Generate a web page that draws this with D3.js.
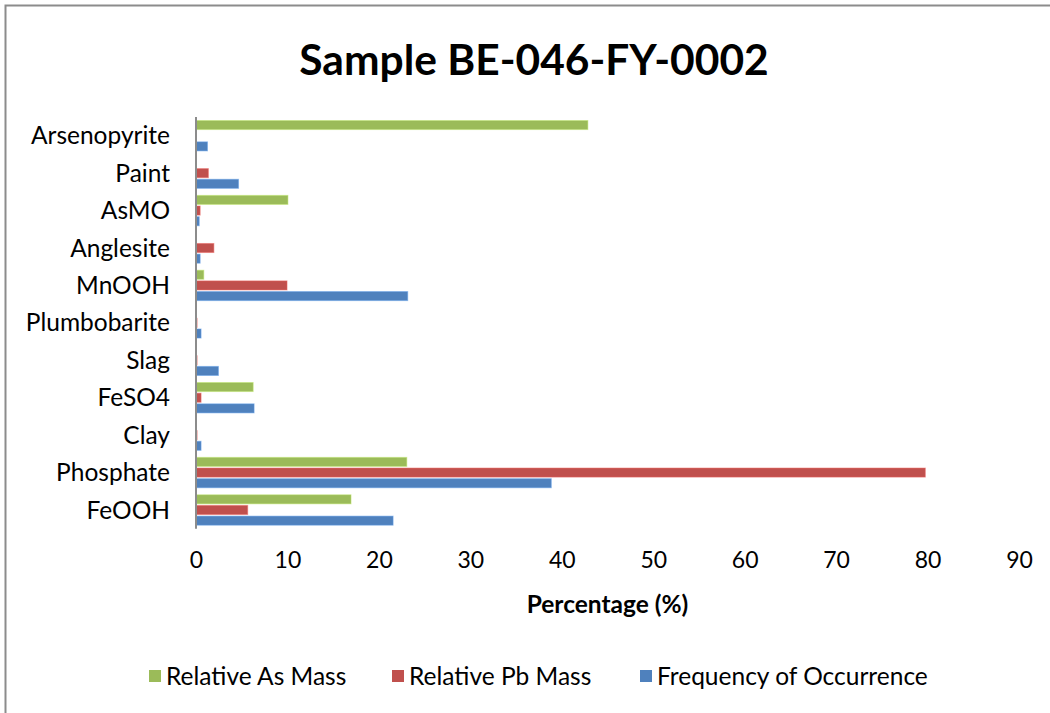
<!DOCTYPE html>
<html>
<head>
<meta charset="utf-8">
<script src="https://cdn.jsdelivr.net/npm/d3@7"></script>
<style>
html,body{margin:0;padding:0;background:#fff;}
svg{display:block;font-family:Lato,"Open Sans",sans-serif;}
</style>
</head>
<body>
<svg id="chart" width="1050" height="713"></svg>
<script>
const title = "Sample BE-046-FY-0002";
const categories = ["Arsenopyrite","Paint","AsMO","Anglesite","MnOOH","Plumbobarite","Slag","FeSO4","Clay","Phosphate","FeOOH"];
const seriesNames = ["Relative As Mass","Relative Pb Mass","Frequency of Occurrence"];
const asMass   = [42.8, 0,   10.0, 0,   0.8, 0,    0,    6.2, 0,    23.0, 16.9];
const pbMass   = [0,    1.3, 0.4,  1.9, 9.9, 0.05, 0.05, 0.5, 0.05, 79.7, 5.6];
const freqOcc  = [1.2,  4.6, 0.3,  0.4, 23.1,0.5,  2.4,  6.3, 0.5,  38.8, 21.5];
const xTicks = [0,10,20,30,40,50,60,70,80,90];
const xTitle = "Percentage (%)";
const colors = ["#9BBB59","#C0504D","#4F81BD"];

const series = [asMass, pbMass, freqOcc];
const svg = d3.select("#chart");

// chart border (top + left visible)
svg.append("path").attr("d","M5.5,720 L5.5,5.5 L1060,5.5")
  .attr("fill","none").attr("stroke","#8c8c8c").attr("stroke-width",2);

const plot = {left:196, right:1019, top:117, bottom:528.7};
const x = d3.scaleLinear().domain([0,90]).range([plot.left, plot.right]);
const y = d3.scaleBand().domain(categories).range([plot.top, plot.bottom]).paddingInner(0.145).paddingOuter(0.0725);
const ySub = d3.scaleBand().domain(d3.range(3)).range([0, y.bandwidth()]);

// title
svg.append("text").attr("x",534).attr("y",75).attr("text-anchor","middle")
  .attr("font-size",42.5).attr("font-weight","bold").attr("fill","#000").text(title);

// bars
const g = svg.append("g");
categories.forEach((c,i)=>{
  series.forEach((s,j)=>{
    const v = s[i];
    if (v <= 0) return;
    g.append("rect")
      .attr("x", x(0)+0.5)
      .attr("y", y(c)+ySub(j)+0.8)
      .attr("width", Math.max(0.6, x(v)-x(0)))
      .attr("height", ySub.bandwidth()-1.6)
      .attr("fill", colors[j])
      .attr("stroke", d3.color(colors[j]).brighter(0.6))
      .attr("stroke-opacity",0.5)
      .attr("stroke-width",1);
  });
});

// y axis line
svg.append("line").attr("x1",x(0)).attr("x2",x(0)).attr("y1",plot.top).attr("y2",plot.bottom)
  .attr("stroke","#8c8c8c").attr("stroke-width",2);

// category labels
const yAxis = d3.axisLeft(y).tickSize(0).tickPadding(0);
const yg = svg.append("g").attr("transform",`translate(${170},0)`).call(yAxis);
yg.select(".domain").remove();
yg.selectAll("text").attr("font-size",24.5).attr("font-family","Lato").attr("fill","#000")
  .attr("dy","0.35em").attr("x",0).attr("text-anchor","end");

// x tick labels
const xAxis = d3.axisBottom(x).tickValues(xTicks).tickSize(0).tickPadding(0);
const xg = svg.append("g").attr("transform",`translate(0,${552})`).call(xAxis);
xg.select(".domain").remove();
xg.selectAll("text").attr("font-size",23).attr("font-family","Lato").attr("fill","#000").attr("dy","0.71em");

// x title
svg.append("text").attr("x",(plot.left+plot.right)/2).attr("y",613).attr("text-anchor","middle")
  .attr("font-size",24.5).attr("font-weight","bold").attr("fill","#000").text(xTitle);

// legend
const legendX = [149, 392, 640];
seriesNames.forEach((n,j)=>{
  svg.append("rect").attr("x",legendX[j]).attr("y",670).attr("width",12).attr("height",12).attr("fill",colors[j]);
  svg.append("text").attr("x",legendX[j]+17).attr("y",685).attr("font-size",24.5).attr("fill","#000").text(n);
});
</script>
</body>
</html>
